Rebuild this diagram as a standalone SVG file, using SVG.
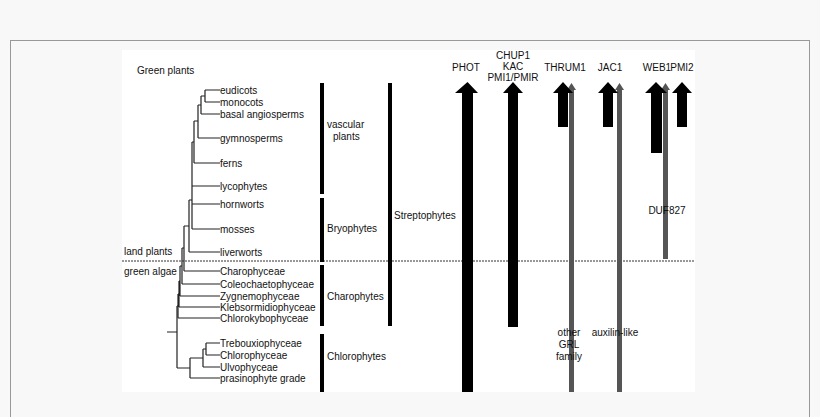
<svg xmlns="http://www.w3.org/2000/svg" width="820" height="417" viewBox="0 0 820 417">
<style>
text{font-family:"Liberation Sans",Arial,sans-serif;font-size:10px;fill:#111}
.t{stroke:#222;stroke-width:1.2;fill:none}
.bar{fill:#000}
.g{fill:#555}
.c{text-anchor:middle}
</style>
<rect width="820" height="417" fill="#f8f8f8"/>
<rect x="10.5" y="40.5" width="799" height="390" fill="#f8f8f8" stroke="#999"/>
<rect x="122" y="50" width="573" height="342" fill="#fff"/>
<g id="tree">
<text x="137" y="74">Green plants</text>
<path class="t" d="M205,90H220M205,102H220M205,90V102M201,96H205M201,114H220M201,96V114M198,105H201M198,138H220M198,105V138M194,121H198M194,163H220M194,121V163M192,142H194M192,186H220M192,142V186M192,204H220M192,229H220M192,164V229M189,200H192M189,252H220M189,200V252M184,226H189M184,271H220M184,226V271M182,248H184M182,284H220M182,248V284M180,266H182M180,296H220M180,266V296M179,281H180M179,307H220M179,281V307M178,294H179M178,318H220M178,294V318"/>
<path class="t" d="M206,343H220M206,355H220M206,343V355M203,349H206M203,367H220M203,349V367M190,358H203M190,378H220M190,358V378M177,306H178M177,368H190M177,306V368M167,332H177"/>
<text x="220" y="94">eudicots</text>
<text x="220" y="106">monocots</text>
<text x="220" y="118">basal angiosperms</text>
<text x="220" y="142">gymnosperms</text>
<text x="220" y="167">ferns</text>
<text x="220" y="190">lycophytes</text>
<text x="220" y="208">hornworts</text>
<text x="220" y="233">mosses</text>
<text x="220" y="256">liverworts</text>
<text x="220" y="275">Charophyceae</text>
<text x="220" y="288">Coleochaetophyceae</text>
<text x="220" y="300">Zygnemophyceae</text>
<text x="220" y="311">Klebsormidiophyceae</text>
<text x="220" y="322">Chlorokybophyceae</text>
<text x="220" y="347">Trebouxiophyceae</text>
<text x="220" y="359">Chlorophyceae</text>
<text x="220" y="371">Ulvophyceae</text>
<text x="220" y="382">prasinophyte grade</text>
<text x="124" y="255">land plants</text>
<text x="124" y="275">green algae</text>
</g>
<line x1="122" y1="261" x2="695" y2="261" stroke="#333" stroke-dasharray="2,1" stroke-width="1"/>
<g id="groups">
<rect class="bar" x="320" y="83" width="4" height="111"/>
<rect class="bar" x="320" y="198" width="4" height="64"/>
<rect class="bar" x="320" y="265" width="4" height="61"/>
<rect class="bar" x="320" y="334" width="4" height="58"/>
<rect class="bar" x="388" y="83" width="4" height="243"/>
<text x="327" y="128">vascular</text>
<text x="333" y="140">plants</text>
<text x="327" y="232">Bryophytes</text>
<text x="327" y="300">Charophytes</text>
<text x="327" y="360">Chlorophytes</text>
<text x="394" y="219">Streptophytes</text>
</g>
<g id="connectors">
<path class="bar" d="M462,392V93H455L467.5,82L478,93H473V392Z"/>
<path class="bar" d="M508,327V93H503L513,82L523,93H518V327Z"/>
<rect class="g" x="569" y="88" width="5" height="304"/><path class="g" d="M567,90L571.5,83L576,90Z"/>
<path class="bar" d="M558,127V93H553L563,82L573,93H568V127Z"/>
<rect class="g" x="617" y="88" width="5" height="304"/><path class="g" d="M615,90L619.5,83L624,90Z"/>
<path class="bar" d="M603,127V93H598L608,82L618,93H613V127Z"/>
<rect class="g" x="663" y="88" width="5" height="171"/><path class="g" d="M661,90L665.5,83L670,90Z"/>
<path class="bar" d="M651,153V93H645L656,82L667,93H662V153Z"/>
<path class="bar" d="M677,127V93H672L682,82L692,93H687V127Z"/>
</g>
<g id="labels">
<text class="c" x="466" y="71">PHOT</text>
<text class="c" x="513" y="59">CHUP1</text>
<text class="c" x="513" y="70">KAC</text>
<text class="c" x="513" y="81">PMI1/PMIR</text>
<text class="c" x="565" y="71">THRUM1</text>
<text class="c" x="610" y="71">JAC1</text>
<text class="c" x="657" y="71">WEB1</text>
<text class="c" x="682" y="71">PMI2</text>
<text class="c" x="667" y="214">DUF827</text>
<text class="c" x="569" y="336">other</text>
<text class="c" x="569" y="348">GRL</text>
<text class="c" x="569" y="360">family</text>
<text class="c" x="615" y="336">auxilin-like</text>
</g>
</svg>
